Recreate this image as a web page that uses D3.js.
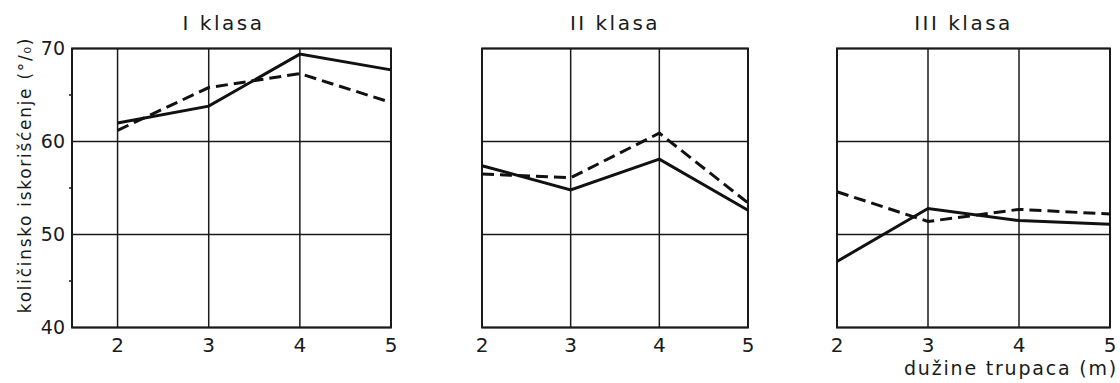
<!DOCTYPE html>
<html>
<head>
<meta charset="utf-8">
<script src="https://cdn.jsdelivr.net/npm/d3@7"></script>
<style>
  body { margin: 0; background: #fff; }
  text { font-family: 'DejaVu Sans', sans-serif; fill: #1a1a1a; }
</style>
</head>
<body>
<svg id="chart" width="1120" height="383"></svg>
<script>
var lengths = [2, 3, 4, 5];
var classNames = ['I klasa', 'II klasa', 'III klasa'];
var solidI = [62.0, 63.8, 69.4, 67.7];
var dashedI = [61.2, 65.8, 67.3, 64.2];
var solidII = [57.4, 54.8, 58.1, 52.6];
var dashedII = [56.5, 56.1, 60.9, 53.4];
var solidIII = [47.1, 52.8, 51.5, 51.1];
var dashedIII = [54.6, 51.4, 52.7, 52.2];
var yTicks = [40, 50, 60, 70];
var yMinor = [45, 55, 65];

var panels = [
  { name: classNames[0], solid: solidI, dashed: dashedI, x0: 72, x1: 391, dom: [1.5, 5] },
  { name: classNames[1], solid: solidII, dashed: dashedII, x0: 482, x1: 748, dom: [2, 5] },
  { name: classNames[2], solid: solidIII, dashed: dashedIII, x0: 837, x1: 1110, dom: [2, 5] }
];

var svg = d3.select('#chart');
var ink = '#1a1a1a';

var yScale = d3.scaleLinear()
  .domain([40, 70])
  .range([327.5, 48.5]);

panels.forEach(function (p, i) {
  var xScale = d3.scaleLinear().domain(p.dom).range([p.x0, p.x1]);
  var g = svg.append('g');

  // grid lines
  g.selectAll('.vgrid')
    .data(lengths)
    .enter().append('line')
    .attr('x1', function (d) { return xScale(d); })
    .attr('x2', function (d) { return xScale(d); })
    .attr('y1', yScale(40))
    .attr('y2', yScale(70))
    .attr('stroke', ink)
    .attr('stroke-width', 1.5);
  g.selectAll('.hgrid')
    .data(yTicks)
    .enter().append('line')
    .attr('x1', p.x0)
    .attr('x2', p.x1)
    .attr('y1', function (d) { return yScale(d); })
    .attr('y2', function (d) { return yScale(d); })
    .attr('stroke', ink)
    .attr('stroke-width', 1.5);

  // frame
  g.append('rect')
    .attr('x', p.x0)
    .attr('y', yScale(70))
    .attr('width', p.x1 - p.x0)
    .attr('height', yScale(40) - yScale(70))
    .attr('fill', 'none')
    .attr('stroke', ink)
    .attr('stroke-width', 2);

  // x tick labels
  g.selectAll('.xlab')
    .data(lengths)
    .enter().append('text')
    .attr('x', function (d) { return xScale(d); })
    .attr('y', 345)
    .attr('dy', '0.35em')
    .attr('text-anchor', 'middle')
    .style('font-size', '20px')
    .text(function (d) { return d; });

  // title
  g.append('text')
    .attr('x', (p.x0 + p.x1) / 2 - (i === 0 ? 8 : (i === 2 ? 10 : 0)))
    .attr('y', 23)
    .attr('dy', '0.35em')
    .attr('text-anchor', 'middle')
    .style('font-size', '20px')
    .style('letter-spacing', '2.5px')
    .text(p.name);

  var line = d3.line()
    .x(function (d, j) { return xScale(lengths[j]); })
    .y(function (d) { return yScale(d); });

  g.append('path')
    .datum(p.dashed)
    .attr('d', line)
    .attr('fill', 'none')
    .attr('stroke', '#111')
    .attr('stroke-width', 3)
    .attr('stroke-dasharray', '12,6');
  g.append('path')
    .datum(p.solid)
    .attr('d', line)
    .attr('fill', 'none')
    .attr('stroke', '#111')
    .attr('stroke-width', 3);

  if (i === 0) {
    g.selectAll('.ylab')
      .data(yTicks)
      .enter().append('text')
      .attr('x', 65)
      .attr('y', function (d) { return yScale(d); })
      .attr('dy', '0.35em')
      .attr('text-anchor', 'end')
      .style('font-size', '19px')
      .text(function (d) { return d; });
    g.selectAll('.minor')
      .data(yMinor)
      .enter().append('line')
      .attr('x1', p.x0 - 3)
      .attr('x2', p.x0)
      .attr('y1', function (d) { return yScale(d); })
      .attr('y2', function (d) { return yScale(d); })
      .attr('stroke', ink)
      .attr('stroke-width', 1.5);
  }
});

// y-axis title
svg.append('text')
  .attr('transform', 'translate(25, 175) rotate(-90)')
  .attr('dy', '0.35em')
  .attr('text-anchor', 'middle')
  .style('font-size', '17px')
  .style('letter-spacing', '1.7px')
  .text('količinsko iskorišćenje (°/₀)');

// x-axis title
svg.append('text')
  .attr('x', 1118)
  .attr('y', 375)
  .attr('text-anchor', 'end')
  .style('font-size', '19px')
  .style('letter-spacing', '1.8px')
  .text('dužine trupaca (m)');
</script>
</body>
</html>
